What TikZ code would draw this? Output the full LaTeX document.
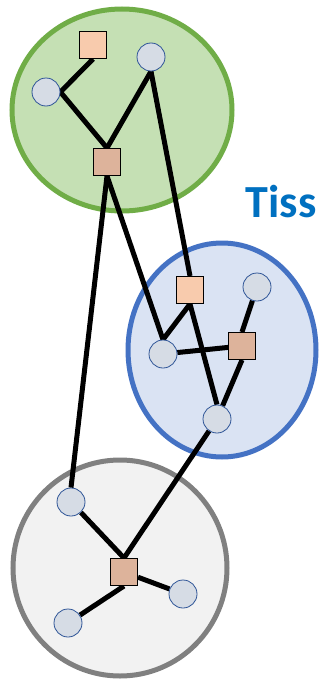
\documentclass[tikz,border=0pt]{standalone}
\usepackage{fontspec}
\setmainfont{Carlito}
\pgfdeclarelayer{zone}
\pgfdeclarelayer{wire}
\pgfsetlayers{zone,wire,main}
\begin{document}
\begin{tikzpicture}[
    x=1pt, y=-1pt,
    dev/.style={circle, draw=devline, line width=0.8pt, fill=devfill, minimum size=28pt, inner sep=0pt},
    hub/.style={rectangle, draw=black, line width=1pt, minimum size=27pt, inner sep=0pt},
    link/.style={line width=5pt},
]
\definecolor{devfill}{HTML}{D6DCE5}
\definecolor{devline}{HTML}{2F5597}
\definecolor{hublight}{HTML}{F8CBAD}
\definecolor{hubdark}{HTML}{DDB39B}
\useasboundingbox (0,0) rectangle (320,680);

% zones
\begin{pgfonlayer}{zone}
\filldraw[fill={rgb,255:red,197;green,224;blue,180}, draw={rgb,255:red,112;green,173;blue,71}, line width=5pt]
    (122,110) ellipse [x radius=110pt, y radius=101pt];
\filldraw[fill={rgb,255:red,218;green,227;blue,243}, draw={rgb,255:red,68;green,114;blue,196}, line width=5pt]
    (222,350) ellipse [x radius=94pt, y radius=107pt];
\filldraw[fill={rgb,255:red,242;green,242;blue,242}, draw={rgb,255:red,128;green,128;blue,128}, line width=5pt]
    (120,568) ellipse [x radius=107pt, y radius=108pt];
\end{pgfonlayer}

% label
\node[text={rgb,255:red,0;green,112;blue,192}, font=\fontsize{46}{46}\selectfont\bfseries, anchor=base, inner sep=0pt] (tiss) at (281,217) {Tiss};

% green zone
\node[hub, fill=hublight] (gq1) at (93,45) {};
\node[dev] (gc1) at (46,92) {};
\node[dev] (gc2) at (151,57) {};
\node[hub, fill=hubdark] (gq2) at (107,162) {};

% blue zone
\node[hub, fill=hublight] (bq1) at (190,290) {};
\node[dev] (bc1) at (257,287) {};
\node[dev] (bc2) at (163,354) {};
\node[hub, fill=hubdark] (bq2) at (242,346) {};
\node[dev] (bc3) at (217,419) {};

% grey zone
\node[dev] (wc1) at (71,502) {};
\node[hub, fill=hubdark] (wq1) at (124,572) {};
\node[dev] (wc2) at (183,594) {};
\node[dev] (wc3) at (68,623) {};

% links, kept under the nodes
\begin{pgfonlayer}{wire}
\draw[link] (gq1.south) -- (gc1.east);
\draw[link] (gc1.east) -- (gq2.north);
\draw[link] (gc2.south) -- (gq2.north);
\draw[link] (gc2.south) -- (bq1.north);
\draw[link] (gq2.south) -- (bc2.north);
\draw[link] (gq2.south) -- (wc1.north);
\draw[link] (bq1.south) -- (bc2.north);
\draw[link] (bq1.south) -- (bc3.north);
\draw[link] (bc2) -- (bq2);
\draw[link] (bc1) -- (bq2.north);
\draw[link] (bq2.south) -- (bc3);
\draw[link] (bc3) -- (wq1.north);
\draw[link] (wc1) -- (wq1.north);
\draw[link] (wq1) -- (wc2);
\draw[link] (wq1.south) -- (wc3);
\end{pgfonlayer}
\end{tikzpicture}
\end{document}
